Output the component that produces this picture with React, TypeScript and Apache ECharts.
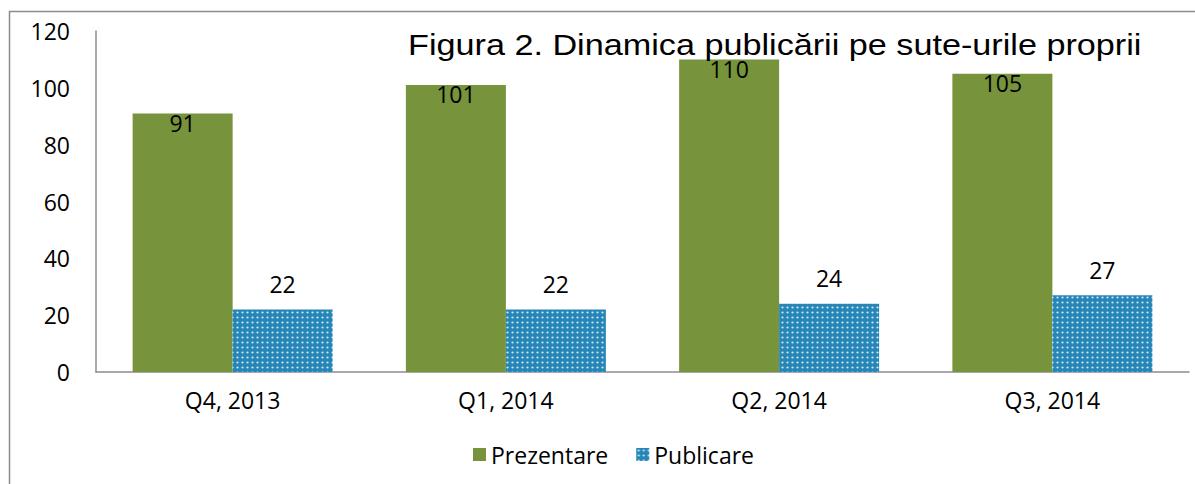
import React, { useEffect, useRef } from "react";
import * as echarts from "echarts";

const categories = ["Q4, 2013", "Q1, 2014", "Q2, 2014", "Q3, 2014"];
const prezentare = [91, 101, 110, 105];
const publicare = [22, 22, 24, 27];
const titleText = "Figura 2. Dinamica publicării pe sute-urile proprii";

function makePattern(): HTMLCanvasElement {
  const c = document.createElement("canvas");
  c.width = 5;
  c.height = 5;
  const ctx = c.getContext("2d")!;
  ctx.fillStyle = "#2686b8";
  ctx.fillRect(0, 0, 5, 5);
  ctx.fillStyle = "rgba(255,255,255,0.8)";
  ctx.beginPath();
  ctx.arc(2.5, 2.5, 1.1, 0, Math.PI * 2);
  ctx.fill();
  return c;
}

export default function App() {
  const ref = useRef<HTMLDivElement>(null);
  useEffect(() => {
    if (!ref.current) return;
    const chart = echarts.init(ref.current, undefined, { renderer: "svg" });
    const pattern = makePattern();
    const font = "'Open Sans', sans-serif";
    chart.setOption({
      animation: false,
      backgroundColor: "#ffffff",
      textStyle: { fontFamily: font },
      graphic: [
        {
          type: "rect",
          shape: { x: 9.5, y: 11.5, width: 1400, height: 700 },
          style: { fill: "none", stroke: "#8c8c8c", lineWidth: 1.5 },
          silent: true,
          z: -1,
        },
        {
          type: "text",
          x: 408,
          y: 45,
          scaleX: 1.14,
          style: {
            text: titleText,
            font: "30px 'Liberation Sans', Arial, sans-serif",
            fill: "#000",
            verticalAlign: "middle",
          },
          z: 10,
        },
      ],
      legend: {
        left: 468,
        top: 438,
        itemWidth: 13,
        itemHeight: 13,
        itemGap: 28,
        icon: "rect",
        textStyle: { fontFamily: font, fontSize: 23, color: "#000" },
        data: ["Prezentare", "Publicare"],
      },
      grid: { left: 96, right: 6, top: 31, bottom: 112, containLabel: false },
      xAxis: {
        type: "category",
        data: categories,
        axisLine: { lineStyle: { color: "#8c8c8c", width: 1.5 } },
        axisTick: { show: false },
        axisLabel: { fontFamily: font, fontSize: 23, color: "#000", margin: 16 },
      },
      yAxis: {
        type: "value",
        min: 0,
        max: 120,
        interval: 20,
        splitLine: { show: false },
        axisLine: { show: true, lineStyle: { color: "#8c8c8c", width: 1.5 } },
        axisTick: { show: false },
        axisLabel: { fontFamily: font, fontSize: 23, color: "#000", margin: 26 },
      },
      series: [
        {
          name: "Prezentare",
          type: "bar",
          data: prezentare,
          barWidth: 100,
          barGap: "0%",
          itemStyle: { color: "#77933c" },
          label: {
            show: true,
            position: "insideTop",
            distance: -2,
            fontFamily: font,
            fontSize: 23,
            color: "#000",
          },
        },
        {
          name: "Publicare",
          type: "bar",
          data: publicare,
          barWidth: 100,
          barGap: "0%",
          itemStyle: { color: { image: pattern, repeat: "repeat" } as any },
          label: {
            show: true,
            position: "top",
            distance: 14,
            fontFamily: font,
            fontSize: 23,
            color: "#000",
          },
        },
      ],
    });
    return () => chart.dispose();
  }, []);
  return (
    <div
      ref={ref}
      style={{ position: "fixed", left: 0, top: 0, width: 1195, height: 484 }}
    />
  );
}
